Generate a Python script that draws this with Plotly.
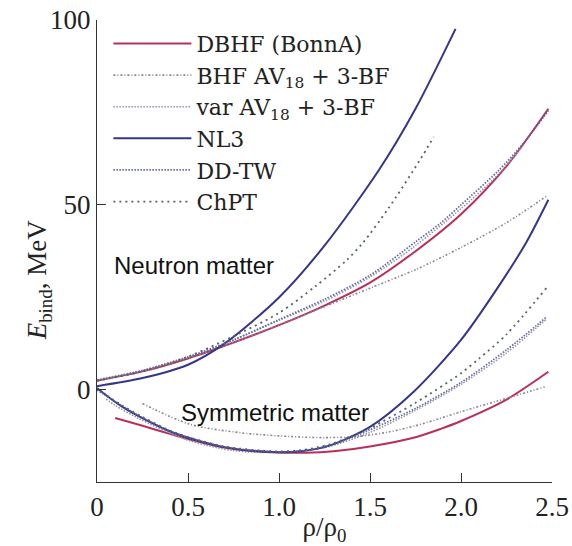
import plotly.graph_objects as go

# ---------------- data ----------------
# DBHF (BonnA)
x_dbhf_neu = [0, 0.25, 0.5, 0.75, 1.0, 1.25, 1.5, 1.75, 2.0, 2.25, 2.48]
e_dbhf_neu = [2.5, 5, 8.5, 12.8, 17.5, 22.8, 29, 37.5, 47.5, 60.5, 76]
x_dbhf_sym = [0.1, 0.25, 0.38, 0.5, 0.69, 0.85, 1.0, 1.15, 1.3, 1.5, 1.75, 1.885, 2.0, 2.25, 2.48]
e_dbhf_sym = [-7.6, -9.7, -11.6, -13.3, -15.5, -16.5, -16.9, -17.0, -16.6, -15.3, -12.8, -10.6, -8.4, -2.6, 4.9]

# BHF AV18 + 3-BF
x_bhf_neu = [0, 0.25, 0.5, 0.75, 1.0, 1.25, 1.5, 1.75, 2.0, 2.25, 2.47]
e_bhf_neu = [2.6, 5.1, 8.6, 12.8, 17.6, 22.5, 27.5, 32.5, 38.5, 45.2, 52.4]
x_bhf_sym = [0.25, 0.51, 0.79, 1.06, 1.25, 1.43, 1.6, 1.75, 1.885, 2.0, 2.2, 2.46]
e_bhf_sym = [-3.7, -9.3, -11.6, -12.6, -12.9, -12.6, -11.4, -9.7, -7.7, -5.9, -3.0, 0.8]

# var AV18 + 3-BF
x_var_neu = [0, 0.25, 0.5, 0.75, 1.0, 1.25, 1.5, 1.75, 2.0, 2.2, 2.34]
e_var_neu = [2.8, 5.3, 9.0, 13.5, 18.8, 24.0, 30.5, 39.0, 49.0, 58.0, 66.0]
x_var_sym = [0.05, 0.1, 0.22, 0.5, 0.75, 1.0, 1.25, 1.5, 1.75, 2.0, 2.25, 2.47]
e_var_sym = [-2.5, -4.2, -7.5, -13.6, -16.4, -16.9, -15.6, -11.5, -5.5, 1.5, 10.0, 19.2]

# NL3
x_nl3_neu = [0, 0.25, 0.5, 0.7, 1.0, 1.25, 1.55, 1.75, 1.97]
e_nl3_neu = [1.0, 3.2, 6.8, 12.5, 25, 39, 59.5, 76, 97.6]
x_nl3_sym = [0, 0.07, 0.14, 0.236, 0.42, 0.69, 0.97, 1.12, 1.28, 1.5, 1.74, 2.0, 2.2, 2.36, 2.48]
e_nl3_sym = [0.5, -2.2, -4.6, -7.3, -11.6, -15.4, -16.8, -16.6, -15.0, -10.0, -0.5, 13.5, 27.5, 40, 51.4]

# DD-TW
x_ddtw_neu = [0, 0.25, 0.5, 0.75, 1.0, 1.25, 1.5, 1.75, 1.885, 2.0, 2.2, 2.34, 2.48]
e_ddtw_neu = [2.5, 5.2, 8.8, 13.5, 19, 24.5, 31, 40, 45, 50, 59, 66.5, 75.5]
x_ddtw_sym = [0, 0.14, 0.25, 0.42, 0.69, 0.97, 1.12, 1.28, 1.5, 1.75, 2.0, 2.25, 2.47]
e_ddtw_sym = [0, -4.4, -7.5, -11.5, -15.3, -16.7, -16.5, -15.0, -10.8, -5.0, 2.0, 10.8, 19.7]

# ChPT
x_chpt_neu = [0, 0.25, 0.5, 0.75, 1.0, 1.2, 1.37, 1.46, 1.6, 1.775, 1.85]
e_chpt_neu = [2.5, 5, 9, 14.5, 20.8, 28, 35, 39.7, 49, 62.2, 68.4]
x_chpt_sym = [0, 0.14, 0.25, 0.42, 0.69, 0.97, 1.12, 1.28, 1.5, 1.75, 2.0, 2.1, 2.25, 2.47]
e_chpt_sym = [0.3, -4.3, -7.3, -11.4, -15.2, -16.6, -16.3, -14.7, -10.3, -3.5, 4.5, 8.5, 15, 27.6]

x_ticks = [0, 0.5, 1.0, 1.5, 2.0, 2.5]
x_tick_text = ["0", "0.5", "1.0", "1.5", "2.0", "2.5"]
y_ticks = [0, 50, 100]

models = [
    ("DBHF (BonnA)", x_dbhf_neu, e_dbhf_neu, x_dbhf_sym, e_dbhf_sym,
     dict(color="#b83058", width=2.0, dash="solid")),
    ("BHF AV<sub>18</sub> + 3-BF", x_bhf_neu, e_bhf_neu, x_bhf_sym, e_bhf_sym,
     dict(color="#8c8494", width=1.6, dash="2px,2px,1px,2px")),
    ("var AV<sub>18</sub> + 3-BF", x_var_neu, e_var_neu, x_var_sym, e_var_sym,
     dict(color="#9a90a8", width=1.6, dash="1.5px,1.5px")),
    ("NL3", x_nl3_neu, e_nl3_neu, x_nl3_sym, e_nl3_sym,
     dict(color="#35358c", width=2.0, dash="solid")),
    ("DD-TW", x_ddtw_neu, e_ddtw_neu, x_ddtw_sym, e_ddtw_sym,
     dict(color="#5c6aa6", width=1.7, dash="1.5px,1.5px")),
    ("ChPT", x_chpt_neu, e_chpt_neu, x_chpt_sym, e_chpt_sym,
     dict(color="#556464", width=1.8, dash="2px,4px")),
]

fig = go.Figure()
for name, xn, yn, xs, ys, line in models:
    fig.add_trace(go.Scatter(x=xn, y=yn, mode="lines", name=name, legendgroup=name,
                             line=dict(shape="spline", smoothing=0.8, **line), showlegend=True))
    fig.add_trace(go.Scatter(x=xs, y=ys, mode="lines", name=name, legendgroup=name,
                             line=dict(shape="spline", smoothing=0.8, **line), showlegend=False))

serif = "Liberation Serif"
legend_serif = "DejaVu Serif"
sans = "Liberation Sans"

fig.add_annotation(x=0.08, y=33.5, xref="x", yref="y", text="Neutron matter", showarrow=False,
                   xanchor="left", font=dict(family=sans, size=24, color="#111"))
fig.add_annotation(x=0.45, y=-6.0, xref="x", yref="y", text="Symmetric matter", showarrow=False,
                   xanchor="left", font=dict(family=sans, size=24, color="#111"))
# y-axis title (placed as in the reference, slightly below the axis centre)
fig.add_annotation(x=-0.127, y=0.437, xref="paper", yref="paper",
                   text="<i>E</i><sub>bind</sub>, MeV", showarrow=False, textangle=-90,
                   xanchor="center", yanchor="middle",
                   font=dict(family=serif, size=27, color="#222"))

fig.update_layout(
    width=572, height=546,
    margin=dict(l=97, r=20, t=20, b=64),
    paper_bgcolor="white", plot_bgcolor="white",
    showlegend=True,
    legend=dict(x=0.025, y=0.994, xanchor="left", yanchor="top",
                bgcolor="rgba(0,0,0,0)", font=dict(family=legend_serif, size=22, color="#222"),
                tracegroupgap=0, itemwidth=78),
    xaxis=dict(range=[0, 2.5], tickvals=x_ticks, ticktext=x_tick_text, automargin=False,
               ticks="inside", ticklen=9, tickcolor="#333", showline=True, linecolor="#333",
               linewidth=1.2, showgrid=False, zeroline=False,
               tickfont=dict(family=serif, size=27, color="#222"),
               title=dict(text="ρ/ρ<sub>0</sub>", font=dict(family=serif, size=27, color="#222"),
                          standoff=0)),
    yaxis=dict(range=[-24.9, 100], tickvals=y_ticks, automargin=False,
               ticks="inside", ticklen=9, tickcolor="#333", showline=True, linecolor="#333",
               linewidth=1.2, showgrid=False, zeroline=False,
               tickfont=dict(family=serif, size=27, color="#222")),
)

fig.write_html("out.html")
